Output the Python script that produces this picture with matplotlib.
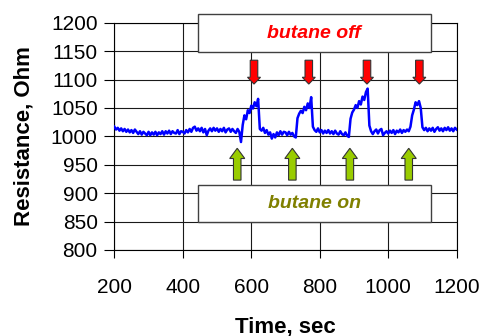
import matplotlib

matplotlib.use("Agg")
import matplotlib.pyplot as plt
import matplotlib.patches as mpatches
import numpy as np

plt.rcParams["font.family"] = ["Liberation Sans", "DejaVu Sans"]

# sensor resistance sampled every 5 s from 200 s to 1200 s
time_start, time_step = 200, 5
resistance = [
    1017, 1012, 1015, 1010, 1014, 1009, 1013, 1008, 1012, 1007,
    1011, 1006, 1012, 1008, 1004, 1009, 1003, 1008, 1005, 1002,
    1008, 1002, 1007, 1003, 1008, 1002, 1007, 1004, 1009, 1003,
    1009, 1005, 1010, 1004, 1009, 1006, 1005, 1011, 1004, 1009,
    1008, 1005, 1011, 1007, 1013, 1008, 1015, 1017, 1010, 1014,
    1009, 1015, 1007, 1013, 1002, 1010, 1014, 1009, 1015, 1010,
    1014, 1008, 1013, 1009, 1015, 1007, 1012, 1014, 1008, 1013,
    1009, 1006, 1013, 1008, 990, 1020, 1037, 1030, 1046, 1041,
    1054, 1049, 1060, 1053, 1066, 1013, 1010, 1015, 1006, 1011,
    1003, 1007, 996, 1004, 998, 1007, 1002, 1009, 1003, 1008,
    1007, 1002, 1008, 1003, 1006, 1000, 998, 1032, 1040, 1045,
    1041, 1052, 1046, 1058, 1050, 1069, 1017, 1011, 1008, 1014,
    1007, 1011, 1005, 1010, 1006, 1011, 1005, 1009, 1004, 1010,
    1005, 1003, 1009, 1004, 1002, 1007, 1001, 999, 1031, 1042,
    1047, 1055, 1050, 1062, 1056, 1070, 1064, 1078, 1084, 1019,
    1009, 1004, 1009, 1012, 1005, 1011, 1013, 1002, 1006, 1009,
    1005, 1010, 1006, 1011, 1004, 1010, 1007, 1012, 1006, 1011,
    1008, 1012, 1009, 1017, 1037, 1047, 1060, 1055, 1062, 1050,
    1016, 1011, 1015, 1009, 1014, 1010, 1015, 1008, 1013, 1016,
    1010, 1014, 1009, 1015, 1011, 1016, 1010, 1014, 1009, 1015,
    1012,
]
time = np.arange(len(resistance)) * time_step + time_start

butane_on_times = [559, 720, 888, 1060]
butane_off_times = [608, 768, 938, 1091]

fig = plt.figure(figsize=(4.83, 3.36), dpi=100)
ax = fig.add_axes([0.2367, 0.256, 0.7088, 0.6764])
ax.plot(time, resistance, color="#0000FF", linewidth=1.8, zorder=3)

ax.set_xlim(200, 1200)
ax.set_ylim(800, 1200)
ax.set_xticks(np.arange(200, 1201, 200))
ax.set_yticks(np.arange(800, 1201, 50))
ax.grid(color="#1a1a1a", linewidth=0.8)
ax.set_axisbelow(True)
ax.tick_params(axis="x", direction="out", length=6, width=0.8, pad=14, labelsize=15)
ax.tick_params(axis="y", direction="out", length=7, width=0.8, pad=5, labelsize=15)
for spine in ax.spines.values():
    spine.set_linewidth(0.8)
ax.set_xlabel("Time, sec", fontsize=16, fontweight="bold", labelpad=14)
ax.set_ylabel("Resistance, Ohm", fontsize=16, fontweight="bold", labelpad=12)

# annotation boxes
for y0, y1, label, color in [(1148, 1215, "butane off", "#FF0000"),
                             (849, 914, "butane on", "#808000")]:
    ax.add_patch(mpatches.Rectangle((444, y0), 680, y1 - y0, facecolor="white",
                                    edgecolor="#404040", linewidth=1.0,
                                    clip_on=False, zorder=4))
    ax.text(784, (y0 + y1) / 2, label, color=color, fontsize=14,
            fontweight="bold", fontstyle="italic", ha="center", va="center",
            zorder=5)

for x in butane_off_times:
    ax.add_patch(mpatches.FancyArrow(x, 1134, 0, -42, width=22, head_width=38,
                                     head_length=12, length_includes_head=True,
                                     facecolor="#FF0000", edgecolor="#333333",
                                     linewidth=0.8, zorder=4))
for x in butane_on_times:
    ax.add_patch(mpatches.FancyArrow(x, 923, 0, 56, width=22, head_width=44,
                                     head_length=18, length_includes_head=True,
                                     facecolor="#99CC00", edgecolor="#333333",
                                     linewidth=0.8, zorder=4))

fig.savefig("out.png", dpi=100)
